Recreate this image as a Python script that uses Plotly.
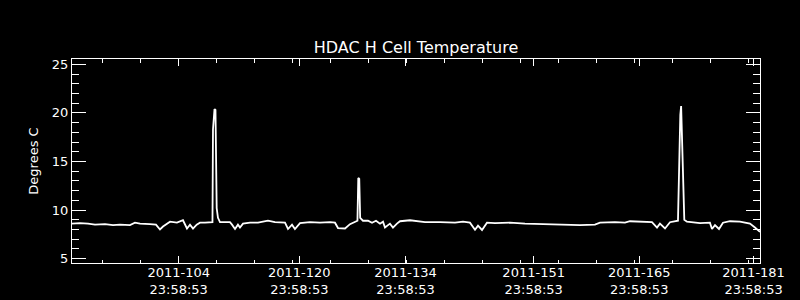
import plotly.graph_objects as go

# Day of year 2011 (fractional) and HDAC H cell temperature (deg C)
days = [89.85, 90.91, 91.97, 92.90, 94.23, 95.29, 96.21, 97.54, 98.20, 98.87,
        100.19, 100.99, 101.52, 101.92, 102.85, 103.77, 104.57, 105.10, 105.50, 105.90,
        106.39, 106.82, 107.49, 108.48, 108.55, 108.75, 108.88, 108.95, 109.04, 109.21,
        109.48, 110.14, 110.80, 111.07, 111.47, 111.86, 112.13, 112.53, 113.46, 114.52,
        115.05, 115.84, 116.77, 118.10, 118.50, 119.03, 119.42, 120.09, 121.41, 122.74,
        124.07, 124.73, 125.13, 125.66, 126.06, 126.72, 127.38, 127.71, 127.82, 127.95,
        128.07, 128.44, 129.11, 129.64, 130.17, 130.70, 131.10, 131.36, 132.02, 132.42,
        132.95, 133.35, 134.68, 135.34, 136.67, 138.66, 140.65, 141.71, 142.63, 143.30,
        143.70, 144.23, 144.89, 145.95, 147.94, 149.93, 151.92, 154.57, 157.22, 159.21,
        159.88, 161.86, 163.19, 163.85, 165.18, 166.77, 167.44, 167.83, 168.50, 169.16,
        170.22, 170.39, 170.53, 170.64, 170.79, 170.92, 171.06, 171.41, 173.14, 174.46,
        174.73, 175.13, 175.66, 176.19, 177.12, 178.44, 179.77, 180.43, 181.10]
temps = [8.6, 8.65, 8.6, 8.5, 8.55, 8.45, 8.5, 8.45, 8.7, 8.6,
         8.55, 8.5, 8.0, 8.3, 8.8, 8.7, 8.95, 8.1, 8.5, 8.1,
         8.5, 8.7, 8.7, 8.75, 18.3, 20.4, 20.3, 15.2, 10.2, 9.2,
         8.75, 8.75, 8.75, 8.5, 8.05, 8.5, 8.2, 8.6, 8.7, 8.7,
         8.8, 8.9, 8.75, 8.7, 8.05, 8.5, 8.05, 8.65, 8.75, 8.7,
         8.75, 8.7, 8.15, 8.1, 8.1, 8.55, 8.8, 8.9, 13.3, 13.2,
         9.2, 8.9, 8.9, 8.7, 8.9, 8.6, 8.8, 8.2, 8.6, 8.2,
         8.6, 8.85, 8.95, 8.9, 8.75, 8.75, 8.7, 8.8, 8.7, 7.97,
         8.4, 7.95, 8.7, 8.65, 8.7, 8.6, 8.55, 8.5, 8.45, 8.5,
         8.7, 8.75, 8.7, 8.85, 8.8, 8.75, 8.2, 8.6, 8.1, 8.75,
         8.9, 16.9, 19.8, 20.7, 16.0, 11.0, 9.0, 8.8, 8.65, 8.7,
         8.05, 8.45, 8.05, 8.7, 8.85, 8.8, 8.6, 8.2, 7.75]

major_vals = [104.0, 120.0, 134.08, 151.08, 165.08, 180.25]
major_text = ["2011-104<br>23:58:53", "2011-120<br>23:58:53", "2011-134<br>23:58:53",
              "2011-151<br>23:58:53", "2011-165<br>23:58:53", "2011-181<br>23:58:53"]
minor_vals = [93.87, 98.91, 103.95, 108.99, 114.03, 119.07, 124.11, 129.15, 134.19,
              139.23, 144.27, 149.31, 154.35, 159.39, 164.43, 169.47, 174.51, 179.55]

FONT = "DejaVu Sans"

fig = go.Figure()
fig.add_trace(go.Scatter(x=days, y=temps, mode="lines",
                         line=dict(color="white", width=1.8), hoverinfo="skip"))

fig.update_layout(
    width=800, height=300,
    paper_bgcolor="black", plot_bgcolor="black",
    margin=dict(l=72, r=40, t=59, b=37),
    showlegend=False,
    font=dict(family=FONT, color="white", size=13),
    title=dict(text="HDAC H Cell Temperature", x=0.52, xanchor="center",
               y=1 - 47.5 / 300, yanchor="middle",
               font=dict(family=FONT, size=16, color="white")),
)
fig.update_xaxes(
    range=[89.85, 181.1], showgrid=False, zeroline=False, automargin=False,
    showline=True, linecolor="white", linewidth=1, mirror="ticks",
    ticks="inside", ticklen=7, tickwidth=1, tickcolor="white",
    tickmode="array", tickvals=major_vals, ticktext=major_text,
    ticklabelstandoff=-3,
    tickfont=dict(family=FONT, size=13, color="white"),
    minor=dict(tickmode="array", tickvals=minor_vals, ticks="inside",
               ticklen=3.5, tickwidth=1, tickcolor="white", showgrid=False),
)
fig.update_yaxes(
    range=[4.55, 25.55], showgrid=False, zeroline=False,
    showline=True, linecolor="white", linewidth=1, mirror="ticks",
    ticks="inside", ticklen=14, tickwidth=1, tickcolor="white",
    tickmode="array", tickvals=[5, 10, 15, 20, 25],
    tickfont=dict(family=FONT, size=13, color="white"),
    minor=dict(tickmode="linear", tick0=5, dtick=1, ticks="inside",
               ticklen=7, tickwidth=1, tickcolor="white", showgrid=False),
    title=dict(text="Degrees C", standoff=10,
               font=dict(family=FONT, size=13, color="white")),
)

fig.write_html("out.html")
